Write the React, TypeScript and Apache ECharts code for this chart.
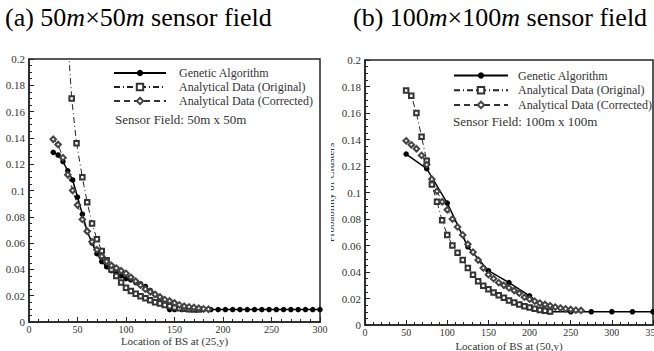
import React, { useEffect, useRef } from "react";
import * as echarts from "echarts";

const FONT = "'Liberation Serif', 'Times New Roman', serif";

const seriesNames = [
  "Genetic Algorithm",
  "Analytical Data (Original)",
  "Analytical Data (Corrected)",
];

// Panel (a): 50m x 50m, BS at (25,y)
const aGAX = [25, 30, 35, 40, 45, 50, 55, 60, 65, 70, 75, 80, 85, 90, 95, 100, 105, 110, 115, 120, 125, 130, 135, 140, 145,
  150, 157.5, 165, 172.5, 180, 187.5, 195, 202.5, 210, 217.5, 225, 232.5, 240, 247.5, 255, 262.5, 270, 277.5, 285, 292.5, 300];
const aGAY = [0.129, 0.127, 0.122, 0.115, 0.108, 0.095, 0.082, 0.069, 0.06, 0.052, 0.046, 0.042, 0.039, 0.037, 0.035, 0.033, 0.032, 0.03, 0.029, 0.027, 0.024, 0.021, 0.018, 0.014, 0.0095,
  0.0095, 0.0095, 0.0095, 0.0095, 0.0095, 0.0095, 0.0095, 0.0095, 0.0095, 0.0095, 0.0095, 0.0095, 0.0095, 0.0095, 0.0095, 0.0095, 0.0095, 0.0095, 0.0095, 0.0095, 0.0095];

const aOrigX = [40, 44, 49, 55, 60, 65, 70, 75, 80, 85, 90, 95, 100, 105, 110, 115, 120, 125, 130, 135, 140, 145, 150, 155, 160, 165, 170, 175];
const aOrigY = [0.215, 0.17, 0.136, 0.11, 0.091, 0.075, 0.063, 0.054, 0.047, 0.04, 0.035, 0.03, 0.026, 0.0235, 0.0215, 0.0195, 0.018, 0.0165, 0.015, 0.014, 0.013, 0.012, 0.011, 0.0105, 0.01, 0.0097, 0.0095, 0.0095];

const aCorrX = [25, 30, 35, 40, 45, 50, 55, 60, 65, 70, 75, 80, 85, 90, 95, 100, 105, 110, 115, 120, 125, 130, 135, 140, 145, 150, 155, 160, 165, 170, 175, 180, 185];
const aCorrY = [0.139, 0.135, 0.125, 0.112, 0.1, 0.089, 0.078, 0.069, 0.061, 0.055, 0.05, 0.046, 0.043, 0.041, 0.039, 0.037, 0.034, 0.031, 0.028, 0.025, 0.023, 0.021, 0.019, 0.017, 0.016, 0.0145, 0.013, 0.012, 0.0115, 0.011, 0.0105, 0.01, 0.0097];

// Panel (b): 100m x 100m, BS at (50,y)
const bGAX = [50, 75, 100, 125, 150, 175, 200, 225, 250, 275, 300, 325, 350];
const bGAY = [0.129, 0.118, 0.092, 0.059, 0.041, 0.032, 0.022, 0.01, 0.01, 0.01, 0.01, 0.01, 0.01];

const bOrigX = [50, 56.25, 62.5, 68.75, 75, 81.25, 87.5, 93.75, 100, 106.25, 112.5, 118.75, 125, 131.25, 137.5, 143.75, 150, 156.25, 162.5, 168.75, 175, 181.25, 187.5, 193.75, 200, 206.25, 212.5, 218.75, 225];
const bOrigY = [0.177, 0.173, 0.16, 0.142, 0.124, 0.106, 0.093, 0.079, 0.068, 0.06, 0.0545, 0.049, 0.043, 0.038, 0.033, 0.0296, 0.027, 0.0245, 0.0225, 0.0205, 0.0185, 0.017, 0.0155, 0.0142, 0.0132, 0.0122, 0.0113, 0.0107, 0.0102];

const bCorrX = [50, 56.25, 62.5, 68.75, 75, 81.25, 87.5, 93.75, 100, 106.25, 112.5, 118.75, 125, 131.25, 137.5, 143.75, 150, 156.25, 162.5, 168.75, 175, 181.25, 187.5, 193.75, 200, 206.25, 212.5, 218.75, 225, 231.25, 237.5, 243.75, 250, 256.25, 262.5];
const bCorrY = [0.139, 0.136, 0.133, 0.128, 0.121, 0.11, 0.101, 0.093, 0.087, 0.08, 0.074, 0.068, 0.061, 0.055, 0.049, 0.043, 0.038, 0.035, 0.032, 0.03, 0.028, 0.026, 0.024, 0.021, 0.0195, 0.018, 0.0165, 0.0155, 0.0145, 0.0135, 0.0128, 0.0122, 0.0117, 0.0112, 0.011];

const zip = (xs: number[], ys: number[]) => xs.map((x, i) => [x, ys[i]]);

export default function App() {
  const ref = useRef<HTMLDivElement>(null);
  useEffect(() => {
    if (!ref.current) return;
    const chart = echarts.init(ref.current, undefined, { renderer: "svg" });
    const axisLine = { show: true, lineStyle: { color: "#222", width: 1.5 } };
    const mkX = (gi: number, max: number, name: string, nameGap: number) => ({
      type: "value", gridIndex: gi, min: 0, max, interval: 50,
      axisLine, axisTick: { inside: true, length: 5, lineStyle: { color: "#222" } },
      minorTick: { show: true, splitNumber: 5, length: 3, lineStyle: { color: "#222" } },
      splitLine: { show: false }, minorSplitLine: { show: false },
      axisLabel: { fontFamily: FONT, fontSize: 10, color: "#333", margin: 2, showMaxLabel: true, hideOverlap: false },
      name, nameLocation: "middle", nameGap, nameMoveOverlap: false,
      nameTextStyle: { fontFamily: FONT, fontSize: 11, color: "#333" },
    });
    const mkY = (gi: number) => ({
      type: "value", gridIndex: gi, min: 0, max: 0.2, interval: 0.02,
      axisLine, axisTick: { inside: true, length: 5, lineStyle: { color: "#222" } },
      minorTick: { show: true, splitNumber: 4, length: 3, lineStyle: { color: "#222" } },
      splitLine: { show: false }, minorSplitLine: { show: false },
      axisLabel: { fontFamily: FONT, fontSize: 11, color: "#333", margin: 4 },
      name: "Probability of Clusters", nameLocation: "middle", nameGap: 30, nameMoveOverlap: false,
      nameTextStyle: { fontFamily: FONT, fontSize: 11, color: "#333" },
    });
    const mkSeries = (gi: number, ga: number[][], orig: number[][], corr: number[][]) => [
      {
        name: seriesNames[0], type: "line", xAxisIndex: gi, yAxisIndex: gi, data: ga,
        symbol: "circle", symbolSize: 5.5, clip: true,
        lineStyle: { color: "#000", width: 1.5 }, itemStyle: { color: "#000" },
      },
      {
        name: seriesNames[1], type: "line", xAxisIndex: gi, yAxisIndex: gi, data: orig,
        symbol: "emptyRect", symbolSize: 4.5, clip: true,
        lineStyle: { color: "#222", width: 1, type: [6, 3, 1, 3] },
        itemStyle: { color: "#333", borderColor: "#333", borderWidth: 1 },
      },
      {
        name: seriesNames[2], type: "line", xAxisIndex: gi, yAxisIndex: gi, data: corr,
        symbol: "emptyDiamond", symbolSize: 5.5, clip: true,
        lineStyle: { color: "#333", width: 1, type: [6, 4] },
        itemStyle: { color: "#444", borderColor: "#444", borderWidth: 1 },
      },
    ];
    const legendBase = {
      data: seriesNames, orient: "vertical", selectedMode: false, padding: 0,
      itemWidth: 52, itemHeight: 8, itemGap: 2,
      textStyle: { fontFamily: FONT, fontSize: 12, color: "#333", padding: [0, 0, 0, 8] },
    };
    const titleStyle = (size: number) => ({
      fontFamily: FONT, fontSize: size, fontWeight: "normal", color: "#000",
      rich: { i: { fontFamily: FONT, fontSize: size, fontStyle: "italic", color: "#000" } },
    });
    chart.setOption({
      animation: false,
      backgroundColor: "#fff",
      title: [
        { text: "(a) 50{i|m}×50{i|m} sensor field", left: 5, top: 4.5, padding: 0, textStyle: titleStyle(26) },
        { text: "(b) 100{i|m}×100{i|m} sensor field", left: 353, top: 4.5, padding: 0, textStyle: titleStyle(26) },
      ],
      legend: [
        { ...legendBase, left: 113, top: 67 },
        { ...legendBase, left: 453, itemWidth: 54, top: 69.5, itemGap: 2.7, textStyle: { ...legendBase.textStyle, padding: [0, 0, 0, 5] } },
      ],
      grid: [
        { left: 29, top: 59, width: 291, height: 263, show: true, borderColor: "#222", borderWidth: 1.5, backgroundColor: "transparent", outerBoundsMode: "none", containLabel: false },
        { left: 365, top: 60, width: 288, height: 265, show: true, borderColor: "#222", borderWidth: 1.5, backgroundColor: "transparent", outerBoundsMode: "none", containLabel: false },
      ],
      xAxis: [mkX(0, 300, "Location of BS at (25,y)", 13), mkX(1, 350, "Location of BS at (50,y)", 15)],
      yAxis: [mkY(0), mkY(1)],
      series: [
        ...mkSeries(0, zip(aGAX, aGAY), zip(aOrigX, aOrigY), zip(aCorrX, aCorrY)),
        ...mkSeries(1, zip(bGAX, bGAY), zip(bOrigX, bOrigY), zip(bCorrX, bCorrY)),
      ],
      graphic: [
        { type: "text", left: 115, top: 113, style: { text: "Sensor Field: 50m x 50m", font: `13px ${FONT}`, fill: "#333" } },
        { type: "text", left: 453, top: 115, style: { text: "Sensor Field: 100m x 100m", font: `13px ${FONT}`, fill: "#333" } },
        { type: "rect", left: 322, top: 120, shape: { width: 9, height: 150 }, style: { fill: "#fff" }, z: 100 },
      ],
    });
    return () => chart.dispose();
  }, []);
  return <div ref={ref} style={{ position: "absolute", left: 0, top: 0, width: 654, height: 351 }} />;
}
